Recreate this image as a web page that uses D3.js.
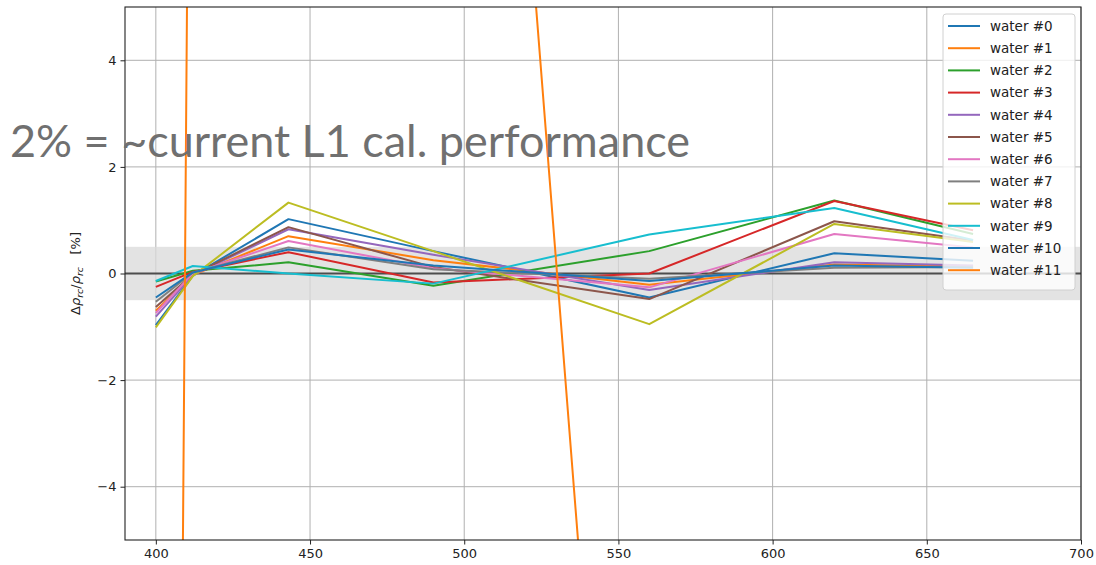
<!DOCTYPE html>
<html><head><meta charset="utf-8">
<script src="https://cdn.jsdelivr.net/npm/d3@7"></script>
<style>
html,body{margin:0;padding:0;background:#fff;}
svg{display:block;}
</style></head>
<body>
<svg id="chart" width="1096" height="565"></svg>
<script>
// ---- data ----
const bands = [400, 412, 443, 490, 560, 620, 665];
const seriesNames = ["water #0","water #1","water #2","water #3","water #4","water #5","water #6","water #7","water #8","water #9","water #10","water #11"];
const colors = ["#1f77b4","#ff7f0e","#2ca02c","#d62728","#9467bd","#8c564b","#e377c2","#7f7f7f","#bcbd22","#17becf","#1f77b4","#ff7f0e"];
const w0  = [-0.97, -0.04, 1.02, 0.42, -0.45, 0.38, 0.24];
const w1  = [-0.70, -0.03, 0.70, 0.25, -0.21, 0.17, 0.13];
const w2  = [-0.15, 0.05, 0.21, -0.23, 0.42, 1.37, 0.74];
const w3  = [-0.25, 0.03, 0.40, -0.17, 0.00, 1.36, 0.81];
const w4  = [-0.81, -0.03, 0.83, 0.35, -0.31, 0.21, 0.15];
const w5  = [-0.63, -0.02, 0.87, 0.12, -0.48, 0.98, 0.62];
const w6  = [-0.74, 0.00, 0.61, 0.10, -0.26, 0.74, 0.49];
const w7  = [-0.53, 0.02, 0.49, 0.08, -0.10, 0.11, 0.12];
const w8  = [-1.01, -0.05, 1.33, 0.42, -0.95, 0.93, 0.59];
const w9  = [-0.14, 0.14, 0.00, -0.19, 0.73, 1.23, 0.63];
const w10 = [-0.45, 0.02, 0.45, 0.15, -0.14, 0.15, 0.11];
const w11 = [-72.0, 19.5, 25.0, 29.5, -22.0, -30.0, -25.0];
const seriesValues = [w0,w1,w2,w3,w4,w5,w6,w7,w8,w9,w10,w11];
const xTicks = [400, 450, 500, 550, 600, 650, 700];
const yTicks = [-4, -2, 0, 2, 4];
const bandLimits = [-0.5, 0.5];
const overlayText = "2% = ~current L1 cal. performance";

// ---- layout ----
const svg = d3.select("#chart");
const L = 125, R = 1081, T = 7, B = 540;
const x = d3.scaleLinear().domain([390, 700]).range([L, R]);
const y = d3.scaleLinear().domain([-5, 5]).range([B, T]);

svg.append("defs").append("clipPath").attr("id","clip")
  .append("rect").attr("x",L).attr("y",T).attr("width",R-L).attr("height",B-T);

// grid
const grid = svg.append("g");
grid.selectAll(".gx").data(xTicks).join("line")
  .attr("x1",d=>x(d)).attr("x2",d=>x(d)).attr("y1",T).attr("y2",B)
  .attr("stroke","#b0b0b0").attr("stroke-width",1);
grid.selectAll(".gy").data(yTicks).join("line")
  .attr("y1",d=>y(d)).attr("y2",d=>y(d)).attr("x1",L).attr("x2",R)
  .attr("stroke","#b0b0b0").attr("stroke-width",1);

// tolerance band
svg.append("rect").attr("x",L).attr("width",R-L)
  .attr("y",y(bandLimits[1])).attr("height",y(bandLimits[0])-y(bandLimits[1]))
  .attr("fill","#d9d9d9").attr("fill-opacity",0.75);

// zero line
svg.append("line").attr("x1",L).attr("x2",R).attr("y1",y(0)).attr("y2",y(0))
  .attr("stroke","#4d4d4d").attr("stroke-width",1.8);

// series lines
const line = d3.line().x((d,i)=>x(bands[i])).y(d=>y(d));
const lg = svg.append("g").attr("clip-path","url(#clip)");
seriesValues.forEach((vals,k)=>{
  lg.append("path").datum(vals).attr("d",line)
    .attr("fill","none").attr("stroke",colors[k]).attr("stroke-width",2)
    .attr("stroke-linejoin","round");
});

// axes
const xAxis = d3.axisBottom(x).tickValues(xTicks).tickSize(4.5).tickPadding(4);
const yAxis = d3.axisLeft(y).tickValues(yTicks).tickSize(4.5).tickPadding(4)
  .tickFormat(d=> d<0 ? "\u2212"+Math.abs(d) : d);
const gx = svg.append("g").attr("transform",`translate(0,${B})`).call(xAxis);
const gy = svg.append("g").attr("transform",`translate(${L},0)`).call(yAxis);
[gx,gy].forEach(g=>{
  g.select(".domain").remove();
  g.selectAll("text").attr("font-family","DejaVu Sans").attr("font-size",13).attr("fill","#222");
  g.selectAll("line").attr("stroke","#222");
});

// spines
svg.append("rect").attr("x",L).attr("y",T).attr("width",R-L).attr("height",B-T)
  .attr("fill","none").attr("stroke","#222").attr("stroke-width",1.1);

// y label
const yl = svg.append("text").attr("transform",`translate(80,${y(0)}) rotate(-90)`)
  .attr("text-anchor","middle").attr("font-family","DejaVu Sans").attr("font-size",13).attr("fill","#222");
yl.append("tspan").text("\u0394");
yl.append("tspan").attr("font-style","italic").text("\u03c1");
yl.append("tspan").attr("font-style","italic").attr("font-size",9.5).attr("dy",3).text("rc");
yl.append("tspan").attr("dy",-3).text("/");
yl.append("tspan").attr("font-style","italic").text("\u03c1");
yl.append("tspan").attr("font-style","italic").attr("font-size",9.5).attr("dy",3).text("rc");
yl.append("tspan").attr("dy",-3).text("\u00a0\u00a0\u00a0[%]");

// legend
const legX = 943, legY = 14, legW = 132, legH = 276;
const leg = svg.append("g");
leg.append("rect").attr("x",legX).attr("y",legY).attr("width",legW).attr("height",legH)
  .attr("rx",3).attr("fill","#fff").attr("fill-opacity",0.8).attr("stroke","#d0d0d0");
seriesNames.forEach((name,i)=>{
  const yy = legY + 12 + i*22.2;
  leg.append("line").attr("x1",legX+5).attr("x2",legX+37).attr("y1",yy).attr("y2",yy)
    .attr("stroke",colors[i]).attr("stroke-width",2);
  leg.append("text").attr("x",legX+47).attr("y",yy).attr("dy","0.35em")
    .attr("font-family","DejaVu Sans").attr("font-size",13.5).attr("fill","#222").text(name);
});

// overlay annotation
svg.append("text").attr("x",10).attr("y",157)
  .attr("font-family","Lato, 'Open Sans', sans-serif").attr("font-size",44).attr("font-weight",400)
  .attr("fill","#707070").attr("textLength",680).attr("lengthAdjust","spacingAndGlyphs")
  .text(overlayText);
</script>
</body></html>
